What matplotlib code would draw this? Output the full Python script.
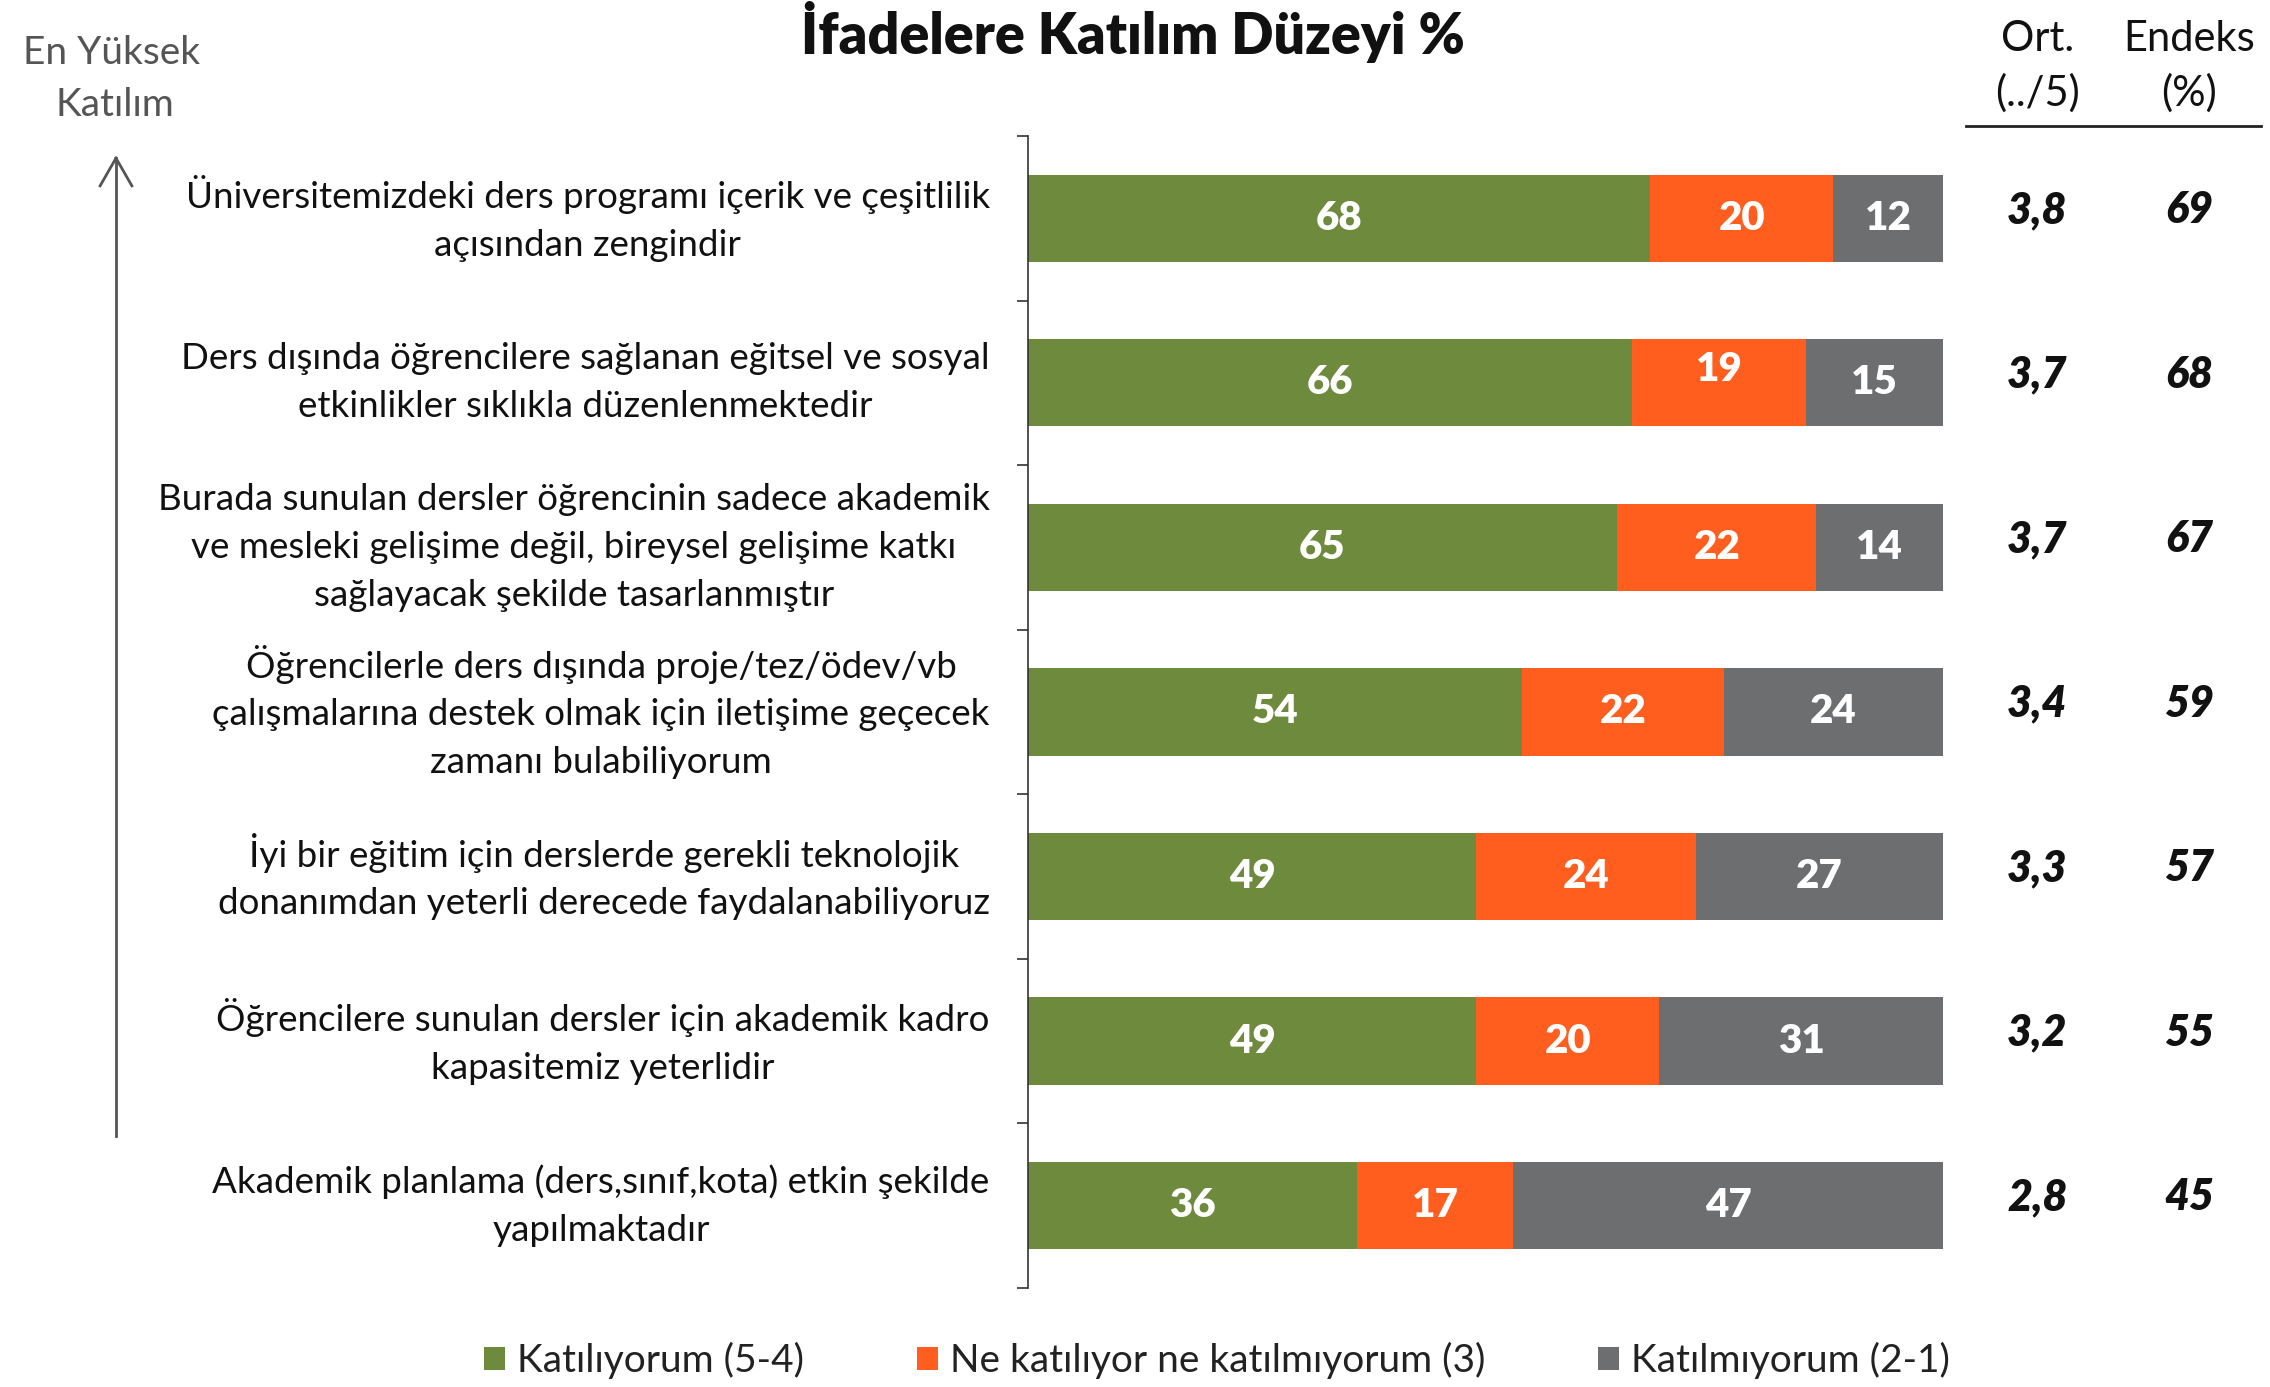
import numpy as np
import matplotlib.pyplot as plt
from matplotlib.patches import Patch

plt.rcParams['font.family'] = ['Lato', 'DejaVu Sans']

statements = [
    "Üniversitemizdeki ders programı içerik ve çeşitlilik\naçısından zengindir",
    "Ders dışında öğrencilere sağlanan eğitsel ve sosyal\netkinlikler sıklıkla düzenlenmektedir",
    "Burada sunulan dersler öğrencinin sadece akademik\nve mesleki gelişime değil, bireysel gelişime katkı\nsağlayacak şekilde tasarlanmıştır",
    "Öğrencilerle ders dışında proje/tez/ödev/vb\nçalışmalarına destek olmak için iletişime geçecek\nzamanı bulabiliyorum",
    "İyi bir eğitim için derslerde gerekli teknolojik\ndonanımdan yeterli derecede faydalanabiliyoruz",
    "Öğrencilere sunulan dersler için akademik kadro\nkapasitemiz yeterlidir",
    "Akademik planlama (ders,sınıf,kota) etkin şekilde\nyapılmaktadır",
]
agree = [68, 66, 65, 54, 49, 49, 36]
neutral = [20, 19, 22, 22, 24, 20, 17]
disagree = [12, 15, 14, 24, 27, 31, 47]
ort = ["3,8", "3,7", "3,7", "3,4", "3,3", "3,2", "2,8"]
endeks = ["69", "68", "67", "59", "57", "55", "45"]
legend_labels = ["Katılıyorum (5-4)", "Ne katılıyor ne katılmıyorum (3)", "Katılmıyorum (2-1)"]
colors = ["#6E8B3D", "#FF5E1F", "#6D6E70"]

vals = np.array([agree, neutral, disagree], dtype=float)
widths = vals / vals.sum(axis=0) * 100  # bars are drawn to full width

fig = plt.figure(figsize=(22.7, 13.87), dpi=100)
ax = fig.add_axes([0.4529, 0.0714, 0.4031, 0.8306])

y = np.arange(len(statements))
left = np.zeros(len(statements))
for i in range(3):
    ax.barh(y, widths[i], left=left, height=0.53, color=colors[i], edgecolor='none')
    for j in range(len(y)):
        dy = -0.08 if (i == 1 and j == 1) else 0
        ax.text(left[j] + widths[i][j] / 2, y[j] + dy, str(int(vals[i][j])),
                ha='center', va='center', color='white', fontsize=29, fontweight='heavy')
    left += widths[i]

ax.set_xlim(0, 100)
ax.set_ylim(len(statements) - 0.5, -0.5)
for s in ['top', 'right', 'bottom']:
    ax.spines[s].set_visible(False)
ax.spines['left'].set_color('#333333')
ax.spines['left'].set_linewidth(1.2)
ax.set_xticks([])
ax.set_yticks(np.arange(-0.5, len(statements), 1.0))
ax.set_yticklabels([])
ax.tick_params(axis='y', length=8, width=1.2, color='#333333')

# statement labels + right-hand columns
for j, s in enumerate(statements):
    ax.text(-0.042, y[j], s, transform=ax.get_yaxis_transform(), ha='right', va='center',
            multialignment='center', fontsize=26.5, color='#111111', linespacing=1.55)
    ax.text(1.103, y[j] - 0.05, ort[j], transform=ax.get_yaxis_transform(), ha='center', va='center',
            fontsize=31, fontweight='heavy', fontstyle='italic', color='#111111')
    ax.text(1.269, y[j] - 0.05, endeks[j], transform=ax.get_yaxis_transform(), ha='center', va='center',
            fontsize=31, fontweight='heavy', fontstyle='italic', color='#111111')

fig.text(0.499, 0.977, "İfadelere Katılım Düzeyi %", ha='center', va='center',
         fontsize=40, fontweight='heavy', color='#111111')
fig.text(0.8975, 0.972, "Ort.", ha='center', va='center', fontsize=30, color='#111111')
fig.text(0.8975, 0.933, "(../5)", ha='center', va='center', fontsize=30, color='#111111')
fig.text(0.9645, 0.972, "Endeks", ha='center', va='center', fontsize=30, color='#111111')
fig.text(0.9645, 0.933, "(%)", ha='center', va='center', fontsize=30, color='#111111')
fig.add_artist(plt.Line2D([0.866, 0.996], [0.909, 0.909], color='#222222', lw=2))

fig.text(0.049, 0.962, "En Yüksek", ha='center', va='center', fontsize=28, color='#555555')
fig.text(0.0505, 0.924, "Katılım", ha='center', va='center', fontsize=28, color='#555555')
fig.add_artist(plt.Line2D([0.0511, 0.0511], [0.181, 0.886], color='#555555', lw=2))
fig.add_artist(plt.Line2D([0.0511, 0.0441], [0.886, 0.866], color='#555555', lw=2))
fig.add_artist(plt.Line2D([0.0511, 0.0581], [0.886, 0.866], color='#555555', lw=2))

handles = [Patch(facecolor=c, edgecolor='none') for c in colors]
fig.legend(handles, legend_labels, loc='center', bbox_to_anchor=(0.536, 0.019), ncol=3,
           frameon=False, fontsize=28, handlelength=0.55, handleheight=0.55,
           handletextpad=0.3, columnspacing=2.9, labelcolor='#222222')

fig.savefig('out.png', dpi=100)
